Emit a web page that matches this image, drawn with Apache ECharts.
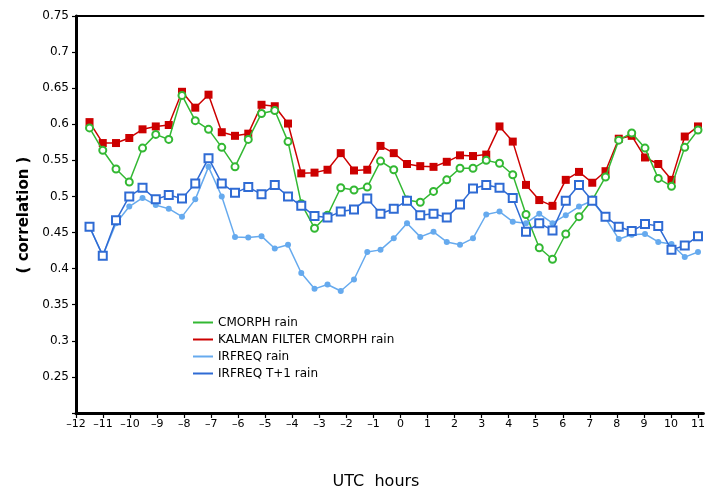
<!DOCTYPE html>
<html>
<head>
<meta charset="utf-8">
<script src="https://cdn.jsdelivr.net/npm/echarts@6/dist/echarts.min.js"></script>
<style>
html,body{margin:0;padding:0;background:#fff;}
#chart{width:708px;height:491px;}
</style>
</head>
<body>
<div id="chart"></div>
<script>
// x positions (UTC hours) of the 47 samples
var hours = [-11.5,-11.01,-10.52,-10.03,-9.54,-9.05,-8.57,-8.08,-7.59,-7.10,-6.61,-6.12,-5.63,-5.14,-4.65,-4.16,-3.67,-3.18,-2.70,-2.21,-1.72,-1.23,-0.74,-0.25,0.24,0.73,1.22,1.71,2.20,2.68,3.17,3.66,4.15,4.64,5.13,5.62,6.11,6.60,7.09,7.58,8.07,8.55,9.04,9.53,10.02,10.51,11.00];

var seriesNames = ['CMORPH rain','KALMAN FILTER CMORPH rain','IRFREQ rain','IRFREQ T+1 rain'];

var cmorph = [0.595,0.564,0.538,0.520,0.567,0.586,0.579,0.640,0.605,0.593,0.568,0.541,0.579,0.615,0.619,0.576,0.490,0.456,0.474,0.512,0.509,0.513,0.549,0.537,0.495,0.492,0.507,0.523,0.539,0.539,0.550,0.546,0.530,0.475,0.429,0.413,0.448,0.472,0.495,0.527,0.578,0.588,0.567,0.525,0.514,0.568,0.592];

var kalman = [0.603,0.574,0.574,0.581,0.593,0.597,0.599,0.645,0.623,0.641,0.589,0.584,0.587,0.627,0.625,0.601,0.532,0.533,0.537,0.560,0.536,0.537,0.570,0.560,0.545,0.542,0.541,0.548,0.557,0.556,0.558,0.597,0.576,0.516,0.495,0.487,0.523,0.534,0.519,0.535,0.580,0.584,0.554,0.545,0.523,0.583,0.597];

var irfreq = [0.458,0.418,0.463,0.486,0.498,0.488,0.483,0.472,0.496,0.541,0.500,0.444,0.443,0.445,0.428,0.433,0.394,0.372,0.378,0.369,0.385,0.423,0.426,0.442,0.463,0.444,0.451,0.437,0.433,0.442,0.475,0.479,0.465,0.463,0.476,0.463,0.474,0.486,0.494,0.470,0.441,0.447,0.448,0.437,0.434,0.416,0.423];

var irfreqT1 = [0.458,0.418,0.467,0.500,0.512,0.496,0.502,0.497,0.518,0.553,0.518,0.505,0.513,0.503,0.516,0.500,0.487,0.473,0.471,0.479,0.482,0.497,0.476,0.483,0.494,0.474,0.476,0.471,0.489,0.511,0.516,0.512,0.498,0.451,0.463,0.453,0.494,0.516,0.494,0.472,0.458,0.452,0.462,0.459,0.426,0.432,0.445];

var yTicks = ['0.25','0.3','0.35','0.4','0.45','0.5','0.55','0.6','0.65','0.7','0.75'];
var xTicks = [-12,-11,-10,-9,-8,-7,-6,-5,-4,-3,-2,-1,0,1,2,3,4,5,6,7,8,9,10,11];

function pairs(vals){ return vals.map(function(v,i){ return [hours[i], v]; }); }

var colors = ['#33b833','#cc0000','#66aaee','#2f6bd4'];

var chart = echarts.init(document.getElementById('chart'), null, {renderer:'canvas'});
var font = 'DejaVu Sans';
var option = {
  animation:false,
  backgroundColor:'#ffffff',
  grid:{left:76, top:16, right:0, bottom:78, containLabel:false},
  xAxis:[{
    type:'value', min:-12, max:11.2, interval:1,
    axisLine:{onZero:false, lineStyle:{color:'#000', width:3}},
    axisTick:{show:true, inside:false, length:5, lineStyle:{color:'#000', width:1.2}},
    axisLabel:{show:true, margin:6, color:'#000', fontSize:11, fontFamily:font,
      showMaxLabel:false,
      formatter:function(v){
        if (xTicks.indexOf(v) < 0) return '';
        return v < 0 ? '\u2013' + Math.abs(v) : String(v);
      }},
    splitLine:{show:false}
  },{
    type:'value', position:'top', min:-12, max:11.2,
    axisLine:{show:true, onZero:false, lineStyle:{color:'#000', width:2}},
    axisTick:{show:false}, axisLabel:{show:false}, splitLine:{show:false}
  }],
  yAxis:{
    type:'value', min:0.2, max:0.75, interval:0.05,
    axisLine:{show:true, onZero:false, lineStyle:{color:'#000', width:3}},
    axisTick:{show:true, length:4, lineStyle:{color:'#000', width:1.2}},
    axisLabel:{margin:7, color:'#000', fontSize:12, fontFamily:font,
      formatter:function(v){
        var s = String(Math.round(v*100)/100);
        return yTicks.indexOf(s) >= 0 ? s : '';
      }},
    splitLine:{show:false}
  },
  legend:{
    orient:'vertical', left:193, top:316, padding:0, itemWidth:20, itemHeight:2, itemGap:4,
    icon:'rect',
    data:seriesNames,
    textStyle:{color:'#000', fontSize:12, fontFamily:font, lineHeight:13}
  },
  graphic:[
    {type:'text', x:24, y:215, rotation:Math.PI/2,
      style:{text:'( correlation )', font:'bold 15px "DejaVu Sans"', fill:'#000', textAlign:'center', textVerticalAlign:'middle'}},
    {type:'text', x:376, y:482,
      style:{text:'UTC  hours', font:'16px "DejaVu Sans"', fill:'#000', textAlign:'center', textVerticalAlign:'middle'}}
  ],
  series:[
    {name:seriesNames[1], type:'line', data:pairs(kalman), color:colors[1],
      symbol:'rect', symbolSize:8, lineStyle:{width:1.5}, itemStyle:{color:colors[1]}, z:2},
    {name:seriesNames[0], type:'line', data:pairs(cmorph), color:colors[0],
      symbol:'emptyCircle', symbolSize:7, lineStyle:{width:1.5}, itemStyle:{color:colors[0], borderWidth:1.3}, z:3},
    {name:seriesNames[2], type:'line', data:pairs(irfreq), color:colors[2],
      symbol:'circle', symbolSize:6, lineStyle:{width:1.5}, itemStyle:{color:colors[2]}, z:4},
    {name:seriesNames[3], type:'line', data:pairs(irfreqT1), color:colors[3],
      symbol:'emptyRect', symbolSize:8, lineStyle:{width:1.5}, itemStyle:{color:colors[3], borderWidth:1.5}, z:5}
  ]
};
chart.setOption(option);
</script>
</body>
</html>
